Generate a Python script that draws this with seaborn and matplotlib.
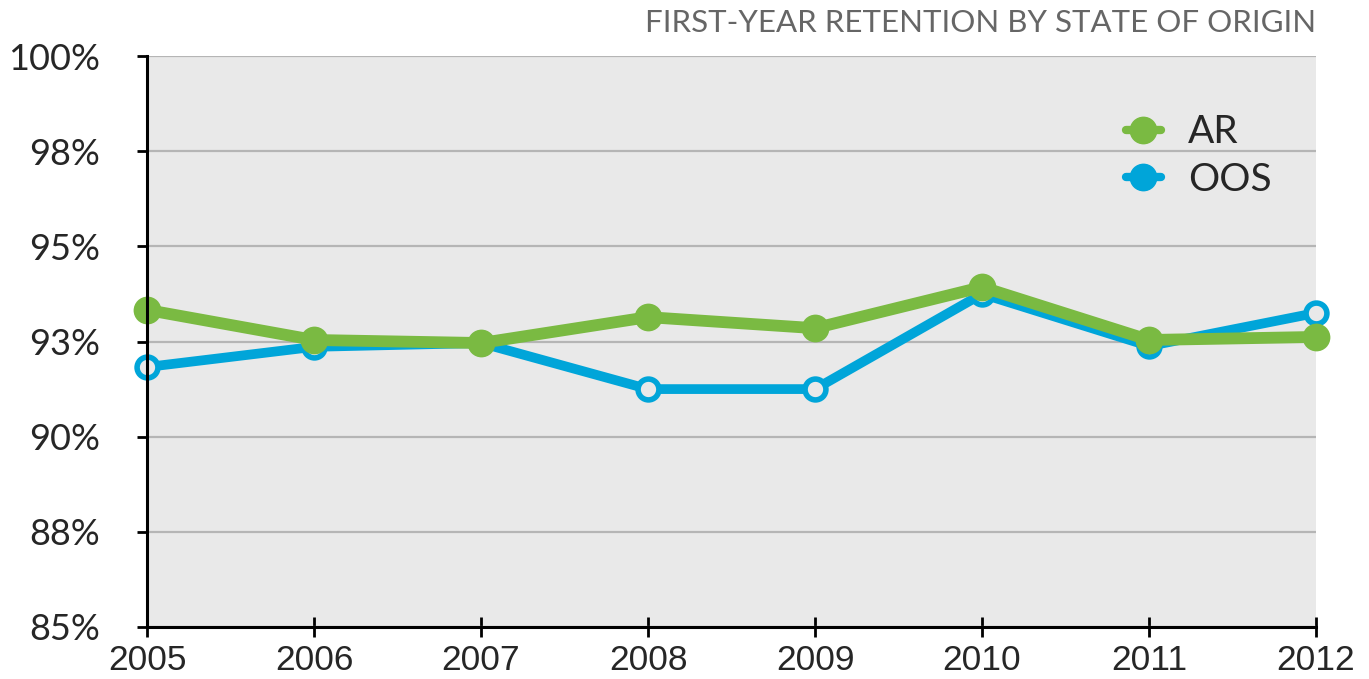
import pandas as pd
import seaborn as sns
import matplotlib.pyplot as plt
from matplotlib.lines import Line2D
from matplotlib.ticker import FixedLocator, FuncFormatter

years = [2005, 2006, 2007, 2008, 2009, 2010, 2011, 2012]
ar_rate = [93.33, 92.54, 92.46, 93.14, 92.85, 93.93, 92.54, 92.62]
oos_rate = [91.83, 92.36, 92.46, 91.25, 91.25, 93.75, 92.38, 93.25]
y_ticks = [85, 87.5, 90, 92.5, 95, 97.5, 100]
title_text = 'FIRST-YEAR RETENTION BY STATE OF ORIGIN'

green = '#7aba42'
blue = '#00a5d9'
bg = '#e9e9e9'

df_ar = pd.DataFrame({'Year': years, 'Rate': ar_rate})
df_oos = pd.DataFrame({'Year': years, 'Rate': oos_rate})

sns.set_theme(style='white')
plt.rcParams['font.family'] = ['Lato', 'DejaVu Sans']

fig = plt.figure(figsize=(13.69, 6.79), dpi=100)
ax = fig.add_axes([0.1074, 0.0766, 0.8539, 0.8409])
ax.set_facecolor(bg)

# OOS first so AR sits on top
sns.lineplot(data=df_oos, x='Year', y='Rate', ax=ax, color=blue, linewidth=7,
             marker='o', markersize=15, markerfacecolor=bg, markeredgecolor=blue,
             markeredgewidth=4, clip_on=False, zorder=3)
sns.lineplot(data=df_ar, x='Year', y='Rate', ax=ax, color=green, linewidth=8.5,
             marker='o', markersize=20, markerfacecolor=green, markeredgecolor=green,
             markeredgewidth=0, clip_on=False, zorder=4)

ax.set_xlim(2005, 2012)
ax.set_ylim(85, 100)
ax.set_xlabel('')
ax.set_ylabel('')
ax.xaxis.set_major_locator(FixedLocator(years))
ax.yaxis.set_major_locator(FixedLocator(y_ticks))
ax.yaxis.set_major_formatter(FuncFormatter(lambda v, p: '%d%%' % round(v + 0.01)))

ax.grid(axis='y', color='#b5b5b5', linewidth=1.6, zorder=1)
ax.set_axisbelow(True)
for s in ['top', 'right']:
    ax.spines[s].set_visible(False)
for s in ['left', 'bottom']:
    ax.spines[s].set_color('black')
    ax.spines[s].set_linewidth(2.2)
    ax.spines[s].set_zorder(5)

ax.tick_params(axis='y', direction='out', length=7, width=2, color='black',
               labelsize=26, pad=27, left=True)
ax.tick_params(axis='x', direction='inout', length=14, width=2, color='black',
               labelsize=25.5, pad=5, bottom=True)
for lbl in ax.get_xticklabels():
    lbl.set_family(['Liberation Sans', 'DejaVu Sans'])

fig.text(0.9613, 0.945, title_text, ha='right', va='bottom', fontsize=22.5,
         color='#666666')

handles = [
    Line2D([], [], color=green, linewidth=6, marker='o', markersize=19),
    Line2D([], [], color=blue, linewidth=6, marker='o', markersize=19),
]
ax.legend(handles, ['AR', 'OOS'], loc='upper right', bbox_to_anchor=(0.992, 0.959),
          frameon=False, fontsize=28, handlelength=0.9, handletextpad=0.7,
          labelspacing=0.3)

plt.savefig('out.png', dpi=100)
plt.close()
